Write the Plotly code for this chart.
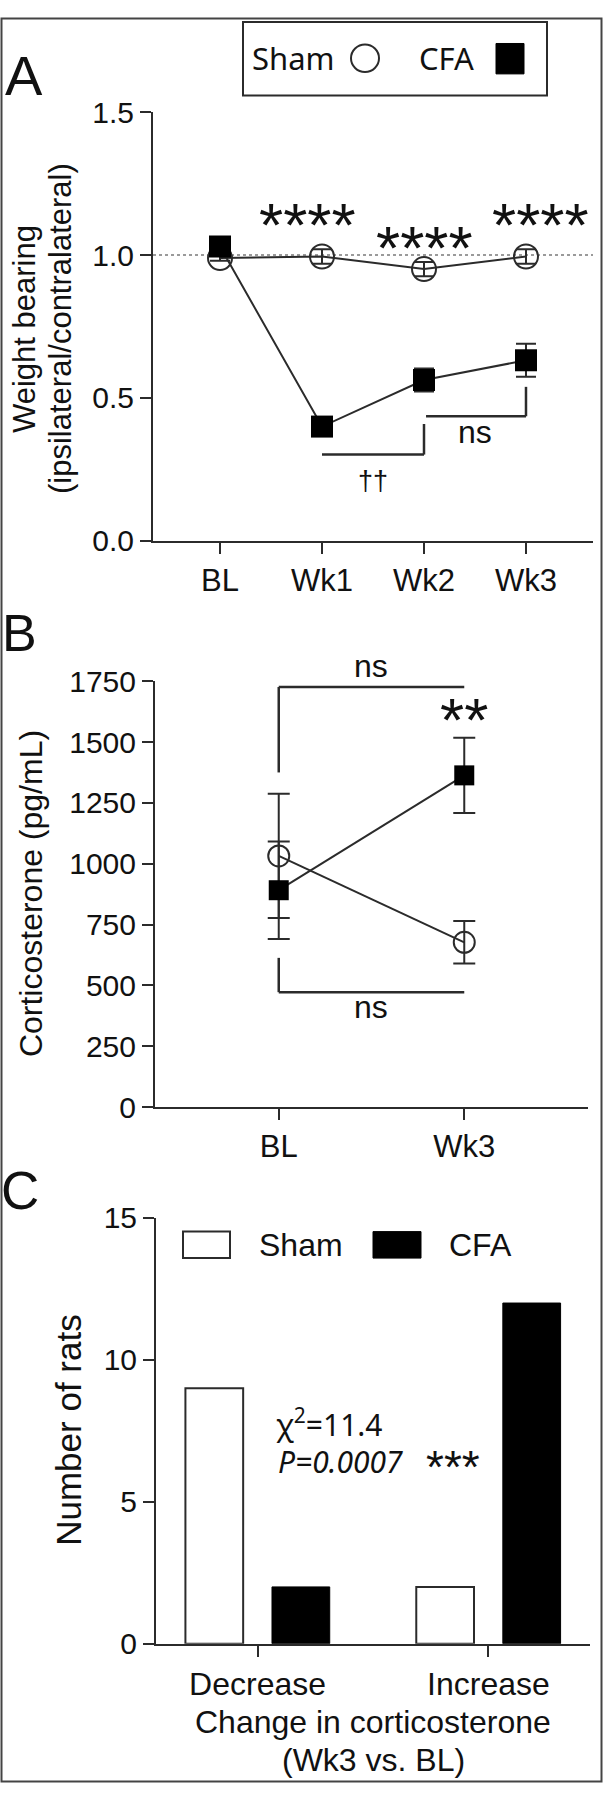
import plotly.graph_objects as go

# ---------------- data ----------------
weeks_A = ["BL", "Wk1", "Wk2", "Wk3"]
sham_wb = [0.99, 0.995, 0.951, 0.995]
sham_wb_err = [0.01, 0.025, 0.025, 0.025]
cfa_wb = [1.03, 0.40, 0.563, 0.632]
cfa_wb_err = [0.015, 0.02, 0.04, 0.058]

times_B = ["BL", "Wk3"]
sham_cort = [1032, 677]
sham_cort_err = [255, 87]
cfa_cort = [891, 1363]
cfa_cort_err = [200, 155]

change_cats = ["Decrease", "Increase"]
sham_counts = [9, 2]
cfa_counts = [2, 12]

yticks_A = [0.0, 0.5, 1.0, 1.5]
yticks_B = [0, 250, 500, 750, 1000, 1250, 1500, 1750]
yticks_C = [0, 5, 10, 15]

# ---------------- helpers ----------------
W, H = 603, 1800
def px(x):
    return x / W
def py(y):
    return 1 - y / H

DARK = "#2b2b2b"
TXT = "#111111"
ARIAL = "Liberation Sans"
CAL = "Noto Sans"

fig = go.Figure()

# Panel A
fig.add_trace(go.Scatter(
    x=weeks_A, y=sham_wb, mode="lines+markers", name="Sham",
    line=dict(color=DARK, width=2),
    marker=dict(symbol="circle-open", size=24, color=DARK, line=dict(width=2, color=DARK)),
    error_y=dict(type="data", array=sham_wb_err, color=DARK, thickness=2, width=10),
    xaxis="x", yaxis="y", showlegend=False))
fig.add_trace(go.Scatter(
    x=weeks_A, y=cfa_wb, mode="lines+markers", name="CFA",
    line=dict(color=DARK, width=2),
    marker=dict(symbol="square", size=22, color="black"),
    error_y=dict(type="data", array=cfa_wb_err, color=DARK, thickness=2, width=10),
    xaxis="x", yaxis="y", showlegend=False))

# Panel B
fig.add_trace(go.Scatter(
    x=times_B, y=sham_cort, mode="lines+markers", name="Sham",
    line=dict(color=DARK, width=2),
    marker=dict(symbol="circle-open", size=21, color=DARK, line=dict(width=2, color=DARK)),
    error_y=dict(type="data", array=sham_cort_err, color=DARK, thickness=2, width=11),
    xaxis="x2", yaxis="y2", showlegend=False))
fig.add_trace(go.Scatter(
    x=times_B, y=cfa_cort, mode="lines+markers", name="CFA",
    line=dict(color=DARK, width=2),
    marker=dict(symbol="square", size=20, color="black"),
    error_y=dict(type="data", array=cfa_cort_err, color=DARK, thickness=2, width=11),
    xaxis="x2", yaxis="y2", showlegend=False))

# Panel C
fig.add_trace(go.Bar(
    x=change_cats, y=sham_counts, name="Sham",
    marker=dict(color="white", line=dict(color=DARK, width=2)),
    xaxis="x3", yaxis="y3", showlegend=False))
fig.add_trace(go.Bar(
    x=change_cats, y=cfa_counts, name="CFA",
    marker=dict(color="black", line=dict(color="black", width=1)),
    xaxis="x3", yaxis="y3", showlegend=False))

axcommon = dict(showgrid=False, zeroline=False, showline=True, linecolor=DARK, linewidth=2,
                ticks="outside", ticklen=11, tickwidth=2, tickcolor=DARK)

fig.update_layout(
    width=W, height=H, margin=dict(l=0, r=0, t=0, b=0),
    paper_bgcolor="white", plot_bgcolor="white",
    barmode="group", bargap=0.25, bargroupgap=0.333,
    xaxis=dict(domain=[px(153), px(593)], anchor="y", type="category",
               range=[-0.657, 3.657], tickfont=dict(family=ARIAL, size=31, color=TXT), **axcommon),
    yaxis=dict(domain=[py(534), py(97)], anchor="x", range=[0, 1.5],
               tickvals=yticks_A, tickformat=".1f",
               tickfont=dict(family=ARIAL, size=30, color=TXT), **axcommon),
    xaxis2=dict(domain=[px(155), px(588)], anchor="y2", type="category",
                range=[-0.667, 1.667], tickfont=dict(family=ARIAL, size=31, color=TXT), **axcommon),
    yaxis2=dict(domain=[py(1111), py(677)], anchor="x2", range=[0, 1750],
                tickvals=yticks_B, tickfont=dict(family=ARIAL, size=30, color=TXT), **axcommon),
    xaxis3=dict(domain=[px(156), px(590)], anchor="y3", type="category",
                range=[-0.44, 1.44], tickfont=dict(family=ARIAL, size=32, color=TXT), **axcommon),
    yaxis3=dict(domain=[py(1658), py(1224)], anchor="x3", range=[0, 15],
                tickvals=yticks_C, tickfont=dict(family=ARIAL, size=30, color=TXT), **axcommon),
)

shapes = []
# outer frame
shapes.append(dict(type="rect", xref="paper", yref="paper", x0=px(1.5), x1=px(601.5),
                   y0=py(1798.5), y1=py(1.5), line=dict(color="#444", width=2)))
# reference dotted line at 1.0
shapes.append(dict(type="line", xref="x domain", yref="y", x0=0, x1=1, y0=1.0, y1=1.0,
                   line=dict(color="#9a9a9a", width=2, dash="dot"), layer="below"))
# legend A box and symbols
shapes.append(dict(type="rect", xref="paper", yref="paper", x0=px(243), x1=px(547),
                   y0=py(80), y1=py(5), line=dict(color=DARK, width=2)))
shapes.append(dict(type="circle", xref="paper", yref="paper", x0=px(351), x1=px(379),
                   y0=py(56), y1=py(28), line=dict(color=DARK, width=2)))
shapes.append(dict(type="rect", xref="paper", yref="paper", x0=px(496), x1=px(524),
                   y0=py(58), y1=py(27), fillcolor="black", line=dict(color="black", width=1)))
# legend C
shapes.append(dict(type="rect", xref="paper", yref="paper", x0=px(183), x1=px(230),
                   y0=py(1265), y1=py(1238), fillcolor="white", line=dict(color=DARK, width=2)))
shapes.append(dict(type="rect", xref="paper", yref="paper", x0=px(373), x1=px(421),
                   y0=py(1265), y1=py(1238), fillcolor="black", line=dict(color="black", width=1)))

def seg(xr, yr, x0, y0, x1, y1):
    shapes.append(dict(type="line", xref=xr, yref=yr, x0=x0, y0=y0, x1=x1, y1=y1,
                       line=dict(color=DARK, width=2.5)))

# A brackets (category index units)
seg("x", "y", 1, 0.302, 2, 0.302)
seg("x", "y", 2, 0.302, 2, 0.409)
seg("x", "y", 2.02, 0.436, 3, 0.436)
seg("x", "y", 3, 0.436, 3, 0.539)
# B brackets
seg("x2", "y2", 0, 1726, 1, 1726)
seg("x2", "y2", 0, 1726, 0, 1375)
seg("x2", "y2", 0, 613, 0, 472)
seg("x2", "y2", 0, 472, 1, 472)

fig.update_layout(shapes=shapes)

ann = []
def txt(x, y, s, size, family=ARIAL, angle=0, xanchor="center", italic=False):
    ann.append(dict(xref="paper", yref="paper", x=px(x), y=py(y), text=s, showarrow=False,
                    xanchor=xanchor, yanchor="middle", textangle=angle,
                    font=dict(family=family, size=size, color=TXT,
                              style="italic" if italic else "normal")))

# panel letters
txt(24, 60, "A", 56)
txt(19, 628, "B", 52)
txt(20, 1196, "C", 53)
# legend texts
txt(293, 42, "Sham", 31, CAL)
txt(446, 42, "CFA", 31, CAL)
txt(301, 1252, "Sham", 32)
txt(480, 1252, "CFA", 32)
# stars / ns
txt(307, 212, "****", 62)
txt(424, 235, "****", 62)
txt(540, 212, "****", 62)
txt(475, 423, "ns", 32)
txt(373, 473, "††", 27)
txt(371, 661, "ns", 32)
txt(464, 716, "**", 62)
txt(371, 1009, "ns", 32)
# chi-square
txt(274, 1433, "χ<sup>2</sup>=11.4", 30, CAL, xanchor="left")
txt(276, 1472, "P=0.0007", 30, CAL, xanchor="left", italic=True)
txt(453, 1478, "***", 46)
# axis titles
txt(25, 318, "Weight bearing", 31, angle=-90)
txt(61, 318, "(ipsilateral/contralateral)", 31, angle=-90)
txt(31, 894, "Corticosterone (pg/mL)", 32, angle=-90)
txt(69, 1441, "Number of rats", 35, angle=-90)
txt(373, 1738, "Change in corticosterone", 32)
txt(373, 1777, "(Wk3 vs. BL)", 32)

fig.update_layout(annotations=ann)
fig.write_html("out.html", config={"displayModeBar": False},
               post_script="document.body.style.margin='0';document.body.style.overflow='hidden';")
